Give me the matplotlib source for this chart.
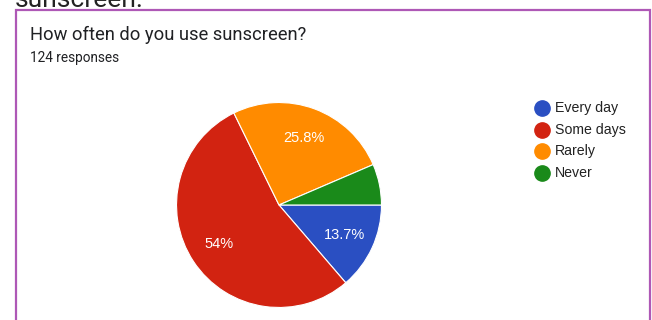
import matplotlib.pyplot as plt
from matplotlib.patches import Rectangle

plt.rcParams['font.family'] = ['Roboto', 'DejaVu Sans']

categories = ['Every day', 'Some days', 'Rarely', 'Never']
counts = [17, 67, 32, 8]
colors = ['#2a4fc2', '#d22311', '#ff8b00', '#1a8a1a']
title = 'How often do you use sunscreen?'
subtitle = '124 responses'

W, H = 652, 320
fig = plt.figure(figsize=(W / 100, H / 100), dpi=100)

# cut-off heading above the card
fig.text(15 / W, 1 - 7 / H, 'sunscreen.', fontsize=19, color='#222222',
         ha='left', va='baseline')

# card border (bottom edge lies outside the picture)
fig.patches.append(Rectangle((15.5 / W, -0.1), 634 / W, 1.1 - 10 / H,
                             transform=fig.transFigure, fill=False,
                             edgecolor='#ae58b6', linewidth=1.6))

fig.text(30 / W, 1 - 35 / H, title, fontsize=13.2, color='#202124', va='center')
fig.text(30 / W, 1 - 58 / H, subtitle, fontsize=9.8, color='#202124', va='center')

# pie
cx, cy, r = 279, 205, 103.5
ax = fig.add_axes([(cx - r) / W, (H - cy - r) / H, 2 * r / W, 2 * r / H])


def pct(p):
    if p < 8:
        return ''
    s = f'{p:.1f}'
    return s[:-2] + '%' if s.endswith('.0') else s + '%'


wedges, texts, autotexts = ax.pie(counts, colors=colors, startangle=0, counterclock=False,
                                  autopct=pct, pctdistance=0.7,
                                  wedgeprops=dict(edgecolor='white', linewidth=0.8))
for t in autotexts:
    t.set_color('white')
    t.set_fontsize(10.5)
    t.set_family(['Liberation Sans', 'DejaVu Sans'])
ax.set_xlim(-1.01, 1.01)
ax.set_ylim(-1.01, 1.01)
ax.set_aspect('equal')
ax.axis('off')

# legend
for i, (lab, c) in enumerate(zip(categories, colors)):
    y = 1 - (108 + i * 21.7) / H
    fig.lines.append(plt.Line2D([542 / W], [y], marker='o', markersize=11,
                                color=c, linestyle='none', transform=fig.transFigure))
    fig.text(555 / W, y, lab, fontsize=10.2, color='#222222', va='center',
             family=['Liberation Sans', 'DejaVu Sans'])

fig.savefig('out.png', dpi=100)
